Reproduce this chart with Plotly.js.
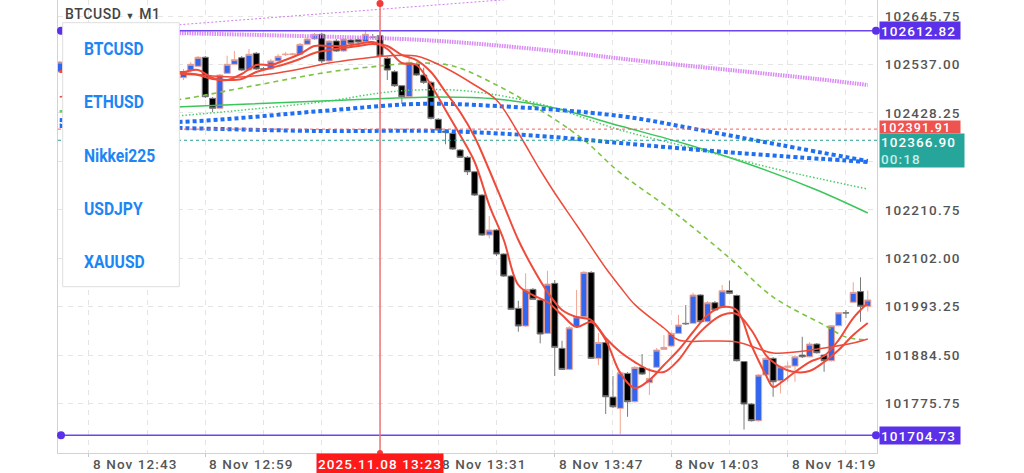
<!DOCTYPE html>
<html><head><meta charset="utf-8">
<script src="https://cdn.plot.ly/plotly-3.0.1.min.js"></script>
<style>
html,body{margin:0;padding:0;background:#fff;}
#chart{width:1024px;height:473px;}
.ytick text{letter-spacing:1.2px;}
.annotation-text{letter-spacing:1.1px;}
.annotation[data-index="0"] .annotation-text,.annotation[data-index="1"] .annotation-text,.annotation[data-index="2"] .annotation-text,.annotation[data-index="3"] .annotation-text,.annotation[data-index="4"] .annotation-text{letter-spacing:0;transform:scaleX(0.87);transform-box:fill-box;transform-origin:left center;}
.annotation[data-index="5"] .annotation-text{letter-spacing:0.6px;}
</style></head><body><div id="chart"></div>
<script>
const DAY = '2025-11-08 ';
const symbols = ['BTCUSD','ETHUSD','Nikkei225','USDJPY','XAUUSD'];

// ---- candles (M1) ----
const candleTimes = ['12:39',
 '12:56','12:57','12:58','12:59','13:00','13:01','13:02','13:03','13:04','13:05','13:06','13:07','13:08','13:09','13:10','13:11','13:12','13:13','13:14','13:15',
 '13:16','13:17','13:18','13:19','13:20','13:21','13:22','13:23','13:24','13:25','13:26','13:27','13:28','13:29','13:30','13:31','13:32','13:33','13:34','13:35',
 '13:36','13:37','13:38','13:39','13:40','13:41','13:42','13:43','13:44','13:45','13:46','13:47','13:48','13:49','13:50','13:51','13:52','13:53','13:54','13:55',
 '13:56','13:57','13:58','13:59','14:00','14:01','14:02','14:03','14:04','14:05','14:06','14:07','14:08','14:09','14:10','14:11','14:12','14:13','14:14','14:15',
 '14:16','14:17','14:18','14:19','14:20','14:21','14:22','14:23','14:24','14:25','14:26','14:27','14:28','14:29','14:30'];
const openP = [102520.1,
 102507.3,102523.9,102532.9,102553.1,102461.0,102438.6,102517.1,102537.4,102552.2,102524.5,102562.0,102527.5,102526.8,102544.8,102559.0,102559.5,102559.8,102582.2,102594.1,102604.7,
 102544.8,102589.7,102567.2,102591.9,102593.0,102588.1,102598.5,102601.5,102550.8,102520.7,102489.3,102464.6,102537.4,102513.3,102496.9,102413.9,102387.6,102382.5,102345.0,102328.6,
 102296.2,102243.9,102154.1,102165.4,102111.5,102062.1,101989.6,101949.9,102032.2,102008.3,101933.4,102045.7,101899.8,101852.6,101948.3,101970.7,102069.9,101877.3,101912.8,101790.4,
 101765.1,101843.6,101779.9,101857.2,101822.6,101857.2,101897.6,101904.9,101933.4,101956.0,101955.9,102019.5,101959.5,102002.2,101992.5,102029.1,102018.4,101870.2,101774.8,101737.3,
 101839.9,101877.3,101827.1,101857.2,101860.0,101884.7,101880.9,101909.4,101884.7,101871.9,101950.5,101979.7,102003.2,102027.2,101994.2];
const highP = [102545.0,
 102526.8,102542.5,102556.0,102556.0,102464.0,102515.6,102556.7,102567.2,102556.0,102571.7,102565.0,102531.3,102549.3,102560.5,102565.0,102563.0,102585.2,102598.6,102607.6,102607.6,
 102591.9,102594.1,102596.4,102595.3,102597.0,102612.1,102605.4,102614.3,102553.7,102524.5,102490.9,102556.7,102540.3,102529.7,102499.9,102416.8,102391.0,102385.4,102347.2,102331.5,
 102297.8,102246.2,102196.8,102167.6,102113.7,102064.3,102006.6,102068.2,102035.1,102010.5,102074.0,102053.2,101916.8,101949.9,102030.7,102073.3,102073.3,101934.1,101916.2,101837.6,
 101848.8,101846.6,101860.0,101887.0,101855.6,101900.5,101929.6,101936.4,101974.6,101997.0,102024.6,102021.7,102006.0,102006.0,102041.9,102052.0,102020.6,101871.3,101777.0,101842.2,
 101880.3,101880.3,101861.2,101869.7,101884.7,101925.8,101913.9,101911.7,101887.0,101952.1,101981.3,101985.8,102048.1,102059.3,102029.4];
const lowP = [102518.0,
 102502.1,102520.1,102531.3,102461.7,102430.3,102437.0,102515.6,102535.8,102522.3,102522.3,102524.5,102524.5,102524.5,102542.5,102556.0,102557.0,102558.2,102580.7,102591.9,102540.3,
 102542.5,102565.0,102565.0,102582.9,102585.0,102585.2,102594.1,102553.7,102502.1,102486.4,102448.2,102462.8,102511.1,102493.1,102413.4,102387.6,102357.8,102345.0,102327.0,102288.8,
 102241.7,102151.9,102146.7,102107.0,102059.9,101985.8,101937.1,101947.6,102008.3,101911.0,101931.9,101837.6,101851.2,101851.2,101946.5,101968.9,101875.8,101862.3,101752.3,101765.7,
 101707.4,101746.2,101778.1,101839.9,101795.0,101855.5,101896.0,101902.7,101931.9,101952.1,101954.4,101956.6,101957.7,101983.5,101990.2,102021.7,101870.2,101717.5,101735.5,101735.5,
 101837.6,101791.1,101798.7,101824.8,101824.8,101878.0,101879.1,101888.1,101847.2,101870.2,101948.7,101967.7,102001.4,101959.5,101982.4];
const closeP = [102542.5,
 102520.7,102537.4,102553.1,102464.6,102438.6,102513.3,102537.4,102547.7,102524.5,102559.8,102526.8,102526.5,102544.8,102555.3,102560.0,102560.5,102582.2,102594.1,102604.7,102544.8,
 102589.7,102567.2,102594.1,102584.5,102587.4,102604.7,102598.0,102556.0,102524.5,102489.3,102464.6,102541.8,102513.3,102496.9,102416.1,102389.9,102384.7,102347.2,102328.6,102296.2,
 102243.9,102154.1,102165.4,102111.5,102062.1,101987.4,101949.9,102032.2,102009.8,101931.9,102044.1,101902.0,101852.6,101946.0,101970.7,102070.4,101877.3,101912.8,101791.1,101768.6,
 101845.0,101779.9,101857.2,101842.1,101832.4,101896.0,101902.0,101933.4,101952.1,101955.0,102019.5,101959.5,102002.2,101985.8,102029.1,102023.2,101872.0,101774.8,101737.3,101839.9,
 101877.3,101824.8,101858.5,101860.0,101880.9,101880.9,101909.4,101889.9,101871.9,101950.5,101979.7,101979.2,102025.6,101994.2,102008.5];

// ---- moving averages ----
const maFastTimes = ['12:39','12:55','12:56','12:58','13:00','13:02','13:04','13:06','13:08','13:10','13:12','13:14','13:16','13:18','13:20','13:22','13:24','13:26','13:28','13:30',
 '13:32','13:34','13:36','13:38','13:40','13:42','13:44','13:46','13:48','13:50','13:52','13:54','13:56','13:58','14:00','14:02','14:04','14:06','14:08','14:10',
 '14:12','14:14','14:16','14:17','14:18','14:20','14:22','14:24','14:26','14:28','14:30'];
const maFast = [102522.3,102520.1,102520.1,102524.6,102506.6,102502.1,102515.6,102535.8,102535.8,102547.0,102560.5,102578.4,102578.4,102578.4,102582.9,102587.4,102571.7,102540.3,102535.8,102490.9,
 102434.8,102378.7,102318.1,102221.5,102143.0,102042.0,102019.5,102003.8,101974.6,101947.7,101958.9,101918.5,101844.4,101810.8,101828.7,101862.4,101896.1,101936.5,101974.6,101992.6,
 101985.8,101907.3,101839.9,101813.0,101822.0,101846.7,101869.1,101882.6,101918.5,101967.9,102001.6];
const maMid = [102520.1,102517.8,102515.6,102513.3,102504.4,102502.1,102504.4,102520.1,102529.1,102538.0,102549.3,102562.7,102569.5,102574.0,102578.4,102582.9,102578.4,102558.2,102547.0,102520.1,
 102475.2,102430.3,102374.2,102300.1,102221.5,102143.0,102080.1,102026.3,101985.8,101970.1,101963.4,101923.0,101891.6,101869.1,101851.2,101846.7,101873.6,101918.5,101952.2,101974.6,
 101976.9,101941.0,101884.8,101869.1,101857.9,101846.7,101848.9,101869.1,101896.1,101929.7,101956.7];
const maSlowTimes = ['12:39','12:55','12:56','13:00','13:04','13:08','13:12','13:16','13:20','13:24','13:28','13:32','13:36','13:39','13:42','13:45','13:47','13:50','13:54','13:56',
 '13:58','14:02','14:04','14:08','14:12','14:17','14:20','14:24','14:28','14:30'];
const maSlow = [102464.0,102515.6,102517.8,102511.1,102508.9,102515.6,102526.8,102540.3,102549.3,102556.0,102556.0,102529.1,102490.9,102457.2,102383.2,102300.1,102248.5,102176.6,102080.1,102037.5,
 101998.0,101945.4,101918.5,101916.3,101914.0,101889.3,101891.6,101900.5,101911.8,101920.8];
const greenDashTimes = ['12:39','12:55','13:04','13:16','13:23','13:28','13:33','13:39','13:45','13:51','13:56','14:03','14:11','14:17','14:24','14:27','14:30'];
const greenDash = [102430.3,102457.2,102484.2,102520.1,102533.5,102540.3,102533.5,102490.9,102434.8,102367.4,102293.4,102210.3,102102.6,102015.0,101952.2,101925.2,101918.5];
const greenSolidTimes = ['12:39','12:55','13:15','13:31','13:39','13:47','13:56','14:05','14:14','14:23','14:30'];
const greenSolid = [102432.5,102441.5,102455.0,102464.0,102459.5,102439.3,102398.9,102358.5,102311.4,102255.2,102203.6];
const greenDotTimes = ['12:39','12:55','13:07','13:16','13:23','13:28','13:35','13:45','13:56','14:07','14:18','14:30'];
const greenDot = [102403.4,102421.3,102439.3,102455.0,102473.0,102479.7,102477.4,102448.3,102389.9,102345.0,102300.1,102257.4];
const blueUpTimes = ['12:39','12:55','13:15','13:28','13:39','13:56','14:07','14:18','14:30'];
const blueUp = [102412.3,102407.8,102432.5,102448.3,102443.8,102421.3,102389.9,102356.2,102320.3];
const blueLowTimes = ['12:39','12:55','13:15','13:31','13:45','13:56','14:07','14:18','14:30'];
const blueLow = [102398.9,102394.4,102387.6,102387.6,102376.4,102360.7,102345.0,102331.5,102318.1];
const violetTimes = ['12:39','12:55','13:12','13:26','13:35','13:47','13:59','14:11','14:23','14:30'];
const violet = [102614.4,102607.6,102600.9,102594.2,102585.2,102567.2,102544.8,102524.6,102504.4,102490.9];
const violetThinTimes = ['12:39','13:53'];
const violetThin = [102605.6,102698.5];

// ---- levels ----
const levelHigh = 102612.82, levelLow = 101704.73;
const bidLevel = 102391.91, askLevel = 102366.90, countdown = '00:18';
const crossTime = '13:23', crossLabel = '2025.11.08 13:23';

// ---- axes ----
const yTickVals = [101775.75,101884.50,101993.25,102102.00,102210.75,102319.50,102428.25,102537.00,102645.75];
const yTickText = ['101775.75','101884.50','101993.25','102102.00','102210.75','','102428.25','102537.00','102645.75'];
const xLabelTimes = ['12:43','12:59','13:31','13:47','14:03','14:19'];
const xLabelText = ['8 Nov 12:43','8 Nov 12:59','8 Nov 13:31','8 Nov 13:47','8 Nov 14:03','8 Nov 14:19'];

const T = a => a.map(t => DAY + t);
// pixel helpers for layout placement
const PL = 58, PW = 819, PH = 453;
const px = x => (x - PL) / PW;
const py = y => 1 - y / PH;

const RED = '#ee4b3b';
const traces = [
 {type:'candlestick', x:T(candleTimes), open:openP, high:highP, low:lowP, close:closeP,
  increasing:{fillcolor:'#3366ee', line:{color:'#f2a48f', width:1}},
  decreasing:{fillcolor:'#000000', line:{color:'#7a7a7a', width:1}},
  whiskerwidth:0, hoverinfo:'skip', showlegend:false},
 {type:'scatter', mode:'lines', x:T(greenSolidTimes), y:greenSolid, line:{color:'#3cc55a', width:1.5, shape:'spline'}, hoverinfo:'skip'},
 {type:'scatter', mode:'lines', x:T(greenDotTimes), y:greenDot, line:{color:'#4ccd6a', width:1.5, dash:'1.5px,2px', shape:'spline'}, hoverinfo:'skip'},
 {type:'scatter', mode:'lines', x:T(greenDashTimes), y:greenDash, line:{color:'#7cc341', width:1.6, dash:'5px,4px', shape:'spline'}, hoverinfo:'skip'},
 {type:'scatter', mode:'lines', x:T(blueLowTimes), y:blueLow, line:{color:'#1f6ff0', width:4, dash:'4px,3px', shape:'spline'}, hoverinfo:'skip'},
 {type:'scatter', mode:'lines', x:T(blueUpTimes), y:blueUp, line:{color:'#1f6ff0', width:4, dash:'4px,3px', shape:'spline'}, hoverinfo:'skip'},
 {type:'scatter', mode:'lines', x:T(violetTimes), y:violet, line:{color:'#d98af5', width:4, dash:'1.5px,1px', shape:'spline'}, hoverinfo:'skip'},
 {type:'scatter', mode:'lines', x:T(violetThinTimes), y:violetThin, line:{color:'#d27ef2', width:1, dash:'2px,2px'}, hoverinfo:'skip'},
 {type:'scatter', mode:'lines', x:T(maSlowTimes), y:maSlow, line:{color:RED, width:1.5, shape:'spline'}, hoverinfo:'skip'},
 {type:'scatter', mode:'lines', x:T(maFastTimes), y:maMid, line:{color:RED, width:2, shape:'spline'}, hoverinfo:'skip'},
 {type:'scatter', mode:'lines', x:T(maFastTimes), y:maFast, line:{color:RED, width:2, shape:'spline'}, hoverinfo:'skip'}
];

const PURPLE = '#6a44f2', PURPLE_BG = '#5a30e8';
const shapes = [
 {type:'line', xref:'paper', x0:0, x1:1, yref:'y', y0:levelHigh, y1:levelHigh, line:{color:PURPLE, width:1.5}},
 {type:'line', xref:'paper', x0:0, x1:1, yref:'y', y0:levelLow, y1:levelLow, line:{color:PURPLE, width:1.5}},
 {type:'line', xref:'paper', x0:0, x1:1, yref:'y', y0:bidLevel, y1:bidLevel, line:{color:'#f26060', width:1, dash:'3px,3px'}},
 {type:'line', xref:'paper', x0:0, x1:1, yref:'y', y0:askLevel, y1:askLevel, line:{color:'#2a9d8f', width:1, dash:'3px,3px'}},
 {type:'line', xref:'x', x0:DAY+crossTime, x1:DAY+crossTime, yref:'paper', y0:0, y1:1, line:{color:'#f27272', width:1.5}},
 {type:'circle', xref:'x', xsizemode:'pixel', xanchor:DAY+crossTime, x0:-3.5, x1:3.5, yref:'paper', ysizemode:'pixel', yanchor:1, y0:-7, y1:0, fillcolor:'#f03c3c', line:{width:0}},
 {type:'circle', xref:'x', xsizemode:'pixel', xanchor:DAY+crossTime, x0:-3, x1:3, yref:'paper', ysizemode:'pixel', yanchor:0, y0:-3, y1:3, fillcolor:'#f03c3c', line:{width:0}},
 {type:'circle', xref:'paper', xsizemode:'pixel', xanchor:0, x0:-1, x1:7, yref:'y', ysizemode:'pixel', yanchor:levelHigh, y0:-4, y1:4, fillcolor:PURPLE_BG, line:{width:0}},
 {type:'circle', xref:'paper', xsizemode:'pixel', xanchor:0, x0:-1, x1:7, yref:'y', ysizemode:'pixel', yanchor:levelLow, y0:-4, y1:4, fillcolor:PURPLE_BG, line:{width:0}},
 {type:'circle', xref:'paper', xsizemode:'pixel', xanchor:1, x0:-5, x1:3, yref:'y', ysizemode:'pixel', yanchor:levelHigh, y0:-4, y1:4, fillcolor:PURPLE_BG, line:{width:0}},
 {type:'circle', xref:'paper', xsizemode:'pixel', xanchor:1, x0:-5, x1:3, yref:'y', ysizemode:'pixel', yanchor:levelLow, y0:-4, y1:4, fillcolor:PURPLE_BG, line:{width:0}},
 // symbol list panel
 {type:'rect', xref:'paper', yref:'paper', x0:px(62.7), x1:px(179.3), y0:py(286.7), y1:py(22.7), fillcolor:'#ffffff', line:{color:'#dedede', width:1}, layer:'above'}
];

const annotations = [];
const itemY = [48.3, 101.7, 155, 208.3, 261.7];
symbols.forEach((s, i) => annotations.push({xref:'paper', yref:'paper', x:px(82), y:py(itemY[i]), xanchor:'left', yanchor:'middle', align:'left',
  text:s, showarrow:false, font:{family:'Roboto, sans-serif', size:18, color:'#1d86f5', weight:700}}));
annotations.push({xref:'paper', yref:'paper', x:px(63), y:py(13.5), xanchor:'left', yanchor:'middle', align:'left', showarrow:false,
  text:'BTCUSD <span style="font-size:9px">▼</span> M1', font:{family:'Roboto, sans-serif', size:14, color:'#444444', weight:500}});
// x-axis labels (left-aligned at tick like the source terminal)
xLabelTimes.forEach((t, i) => annotations.push({xref:'x', yref:'paper', x:DAY+t, y:0, xanchor:'left', yanchor:'top', xshift:2, yshift:-1,
  align:'left', showarrow:false, text:xLabelText[i], font:{family:'Roboto, sans-serif', size:13.5, color:'#555555', weight:500}}));
// crosshair time label
annotations.push({xref:'x', yref:'paper', x:DAY+crossTime, y:0, xanchor:'center', yanchor:'top', showarrow:false,
  text:crossLabel, bgcolor:'#ff1a1a', width:124, height:17, borderpad:1, font:{family:'Roboto, sans-serif', size:13.5, color:'#ffffff', weight:500}});
// price labels on the right
const priceLabel = (v, txt, bg, h, w) => ({xref:'paper', yref:'y', x:1, y:v, xanchor:'left', yanchor:'middle', xshift:2, showarrow:false,
  align:'left', text:txt, bgcolor:bg, width:w, height:h, borderpad:1, font:{family:'Roboto, sans-serif', size:13.5, color:'#ffffff', weight:500}});
annotations.push(priceLabel(levelHigh, levelHigh.toFixed(2), PURPLE_BG, 15, 78));
annotations.push(priceLabel(levelLow, levelLow.toFixed(2), PURPLE_BG, 15, 78));
const bid = priceLabel(bidLevel, bidLevel.toFixed(2), '#ef5350', 10, 78);
bid.yshift = 2; bid.font = Object.assign({}, bid.font, {size:12.5});
annotations.push(bid);
const teal = priceLabel(askLevel, askLevel.toFixed(2) + '<br><span style="color:#c8ece6">' + countdown + '</span>', '#26a69a', 31, 82);
teal.yanchor = 'top'; teal.yshift = 7; teal.valign = 'middle';
annotations.push(teal);

const layout = {
 width:1024, height:473, margin:{l:PL, r:1024-PL-PW, t:0, b:473-PH},
 paper_bgcolor:'#ffffff', plot_bgcolor:'#ffffff', showlegend:false, dragmode:false,
 boxgap:0.05, boxgroupgap:0.12,
 xaxis:{type:'date', range:[DAY+'12:38:46', DAY+'14:31:16'], rangeslider:{visible:false},
  tick0:DAY+'12:43', dtick:960000, ticks:'outside', ticklen:3, tickcolor:'#c8c8c8', showticklabels:false,
  showgrid:true, gridcolor:'#e4e4e4', griddash:'5px,5px', gridwidth:1,
  minor:{tick0:DAY+'12:43', dtick:480000, showgrid:true, gridcolor:'#e4e4e4', griddash:'5px,5px', gridwidth:1},
  showline:true, linecolor:'#d2d2d2', linewidth:1, mirror:true, zeroline:false, fixedrange:true},
 yaxis:{side:'right', range:[101664.9, 102681.7], tickmode:'array', tickvals:yTickVals, ticktext:yTickText,
  ticks:'', ticklabelstandoff:4, tickfont:{family:'Roboto, sans-serif', size:13.5, color:'#555555', weight:500},
  showgrid:true, gridcolor:'#e4e4e4', griddash:'5px,5px', showline:true, linecolor:'#d2d2d2', linewidth:1, mirror:true,
  zeroline:false, fixedrange:true},
 shapes:shapes, annotations:annotations
};
Plotly.newPlot('chart', traces, layout, {displayModeBar:false, staticPlot:true});
</script></body></html>
